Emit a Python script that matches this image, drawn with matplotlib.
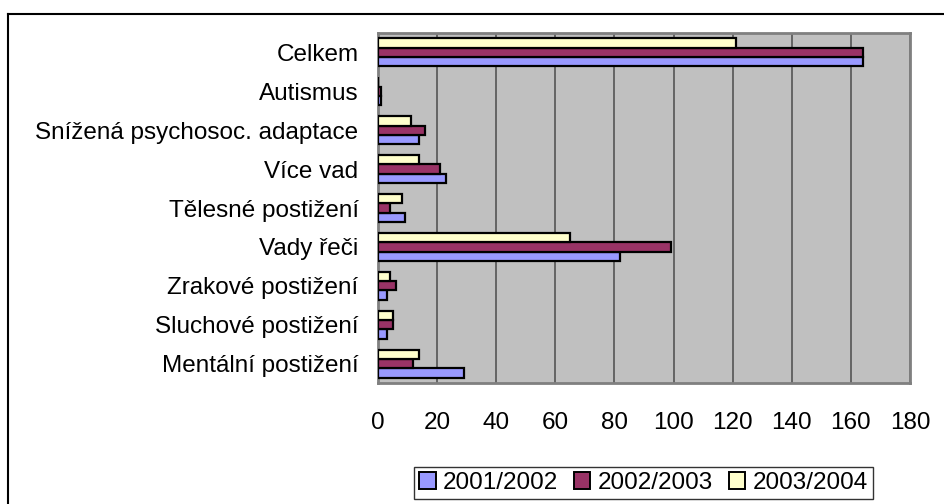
import matplotlib
matplotlib.use("Agg")
import matplotlib.pyplot as plt
import numpy as np
from matplotlib.lines import Line2D

categories = ["Mentální postižení", "Sluchové postižení", "Zrakové postižení",
              "Vady řeči", "Tělesné postižení", "Více vad",
              "Snížená psychosoc. adaptace", "Autismus", "Celkem"]
series_names = ["2001/2002", "2002/2003", "2003/2004"]
v2001 = [29, 3, 3, 82, 9, 23, 14, 1, 164]
v2002 = [12, 5, 6, 99, 4, 21, 16, 1, 164]
v2003 = [14, 5, 4, 65, 8, 14, 11, 0, 121]
colors = ["#9999FF", "#993366", "#FFFFCC"]
xticks = [0, 20, 40, 60, 80, 100, 120, 140, 160, 180]

plt.rcParams['font.family'] = ['Liberation Sans', 'DejaVu Sans']
FS = 17.5

W, H = 944, 504
fig = plt.figure(figsize=(W/100, H/100), dpi=100)
ax = fig.add_axes([378/W, 1-383/H, (910-378)/W, (383-33)/H])
ax.set_facecolor("#C0C0C0")

y = np.arange(len(categories))
bh = 0.24
for i, (vals, c) in enumerate(zip([v2001, v2002, v2003], colors)):
    ax.barh(y + (i-1)*bh, vals, height=bh, color=c, edgecolor="black",
            linewidth=1.6, zorder=3, label=series_names[i])

ax.set_xlim(0, 180)
ax.set_ylim(-0.5, len(categories)-0.5)
ax.set_xticks(xticks)
ax.set_xticklabels([str(t) for t in xticks], fontsize=FS)
ax.set_yticks(y)
ax.set_yticklabels(categories, fontsize=FS)
ax.tick_params(axis='x', length=0, pad=21)
ax.tick_params(axis='y', length=0, pad=14)
ax.grid(axis='x', color="#555555", linewidth=1.2, zorder=1)
for s in ax.spines.values():
    s.set_color("#808080")
    s.set_linewidth(2)

handles = [plt.Rectangle((0, 0), 1, 1, facecolor=c, edgecolor="black", linewidth=1.4)
           for c in colors]
leg = fig.legend(handles, series_names, loc="center",
                 bbox_to_anchor=((415+872)/2/W, 1-(464+502)/2/H),
                 ncol=3, fontsize=FS, frameon=True, fancybox=False,
                 handlelength=0.68, handleheight=0.68, handletextpad=0.3,
                 columnspacing=0.65, borderpad=0.2, borderaxespad=0)
leg.get_frame().set_edgecolor("black")
leg.get_frame().set_linewidth(1.0)

# outer chart frame (extends beyond the image on right/bottom)
fig.add_artist(Line2D([7.5/W, 7.5/W], [0, 1-13.5/H], transform=fig.transFigure,
                      color="black", linewidth=1.5))
fig.add_artist(Line2D([7.5/W, 1], [1-13.5/H, 1-13.5/H], transform=fig.transFigure,
                      color="black", linewidth=1.5))

fig.savefig("out.png", dpi=100)
